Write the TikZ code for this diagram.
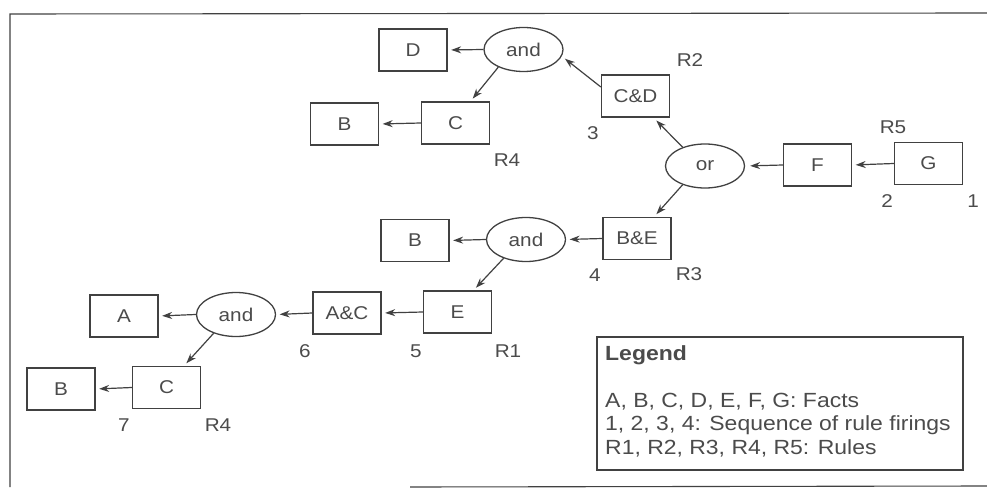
\documentclass[tikz,border=0pt]{standalone}
\usepackage{fontspec}
\setmainfont{Liberation Sans}[FakeStretch=1.12]
\usetikzlibrary{arrows.meta,shapes.geometric}
\definecolor{ink}{RGB}{65,65,65}
\definecolor{txt}{RGB}{75,75,75}
\newcommand\nfont{\fontsize{18.5}{22}\selectfont}
\newcommand\lgfont{\fontsize{20.5}{24}\selectfont}
\begin{document}
\begin{tikzpicture}[x=1pt,y=-1pt,
  fact/.style={draw=ink, line width=1.3pt, rectangle, minimum width=68pt, minimum height=42pt, inner sep=0pt, text=txt, font=\nfont},
  conn/.style={draw=ink, line width=1.3pt, ellipse, minimum width=79pt, minimum height=44pt, inner sep=0pt, text=txt, font=\nfont},
  lab/.style={text=txt, font=\nfont, inner sep=0pt},
  leg/.style={text=txt, font=\lgfont, inner sep=0pt, anchor=west},
  arr/.style={draw=ink, line width=1.2pt, -{Stealth[length=10pt,width=7pt]}, shorten >=3.5pt}]
\useasboundingbox (0,0) rectangle (987,489);
% frame
\draw[ink, line width=1.1pt] (10,487) -- (10,14) -- (987,13);
\draw[ink, line width=1.1pt] (410,487) -- (987,486);
% nodes
\node[fact] (D1) at (413,50) {D};
\node[conn] (and1) at (523.5,49.5) {and};
\node[fact] (B1) at (344.5,124) {B};
\node[fact] (C1) at (455.5,123) {C};
\node[fact] (CD) at (635.5,96) {C\&D};
\node[conn] (or) at (705,166) {or};
\node[fact] (F) at (817.5,165) {F};
\node[fact] (G) at (928.5,163.5) {G};
\node[fact] (BE) at (637,238.5) {B\&E};
\node[conn] (and2) at (526,239.5) {and};
\node[fact] (B2) at (415,240.5) {B};
\node[fact] (E) at (457.5,312) {E};
\node[fact] (AC) at (347,313) {A\&C};
\node[conn] (and3) at (236,314.5) {and};
\node[fact] (A) at (124,316) {A};
\node[fact] (C3) at (166.5,387.5) {C};
\node[fact] (B3) at (61,389) {B};
% labels
\node[lab] (lR2) at (690,60) {R2};
\node[lab] (lR4a) at (507,160) {R4};
\node[lab] (l3) at (593,133) {3};
\node[lab] (lR5) at (893,127) {R5};
\node[lab] (l2) at (887,201) {2};
\node[lab] (l1) at (973,201) {1};
\node[lab] (l4) at (595,275) {4};
\node[lab] (lR3) at (689,274) {R3};
\node[lab] (l6) at (305,351) {6};
\node[lab] (l5) at (416,351) {5};
\node[lab] (lR1) at (508,351) {R1};
\node[lab] (l7) at (124,425) {7};
\node[lab] (lR4b) at (218,425) {R4};
% connectors
\draw[arr] (and1.west) -- (D1.east);
\draw[arr] (and1.215) -- ([xshift=15pt]C1.north);
\draw[arr] (C1.west) -- (B1.east);
\draw[arr, shorten >=4pt] ([yshift=9pt]CD.west) -- (and1.-10);
\draw[arr, shorten >=4pt] (or.140) -- ([xshift=18pt]CD.south);
\draw[arr, shorten >=5pt] (F.west) -- (or.east);
\draw[arr] (G.west) -- (F.east);
\draw[arr] (or.220) -- ([xshift=17pt]BE.north);
\draw[arr] (BE.west) -- (and2.east);
\draw[arr] (and2.west) -- (B2.east);
\draw[arr] (and2.220) -- ([xshift=16pt]E.north);
\draw[arr] (E.west) -- (AC.east);
\draw[arr] (AC.west) -- (and3.east);
\draw[arr] (and3.west) -- (A.east);
\draw[arr] (and3.220) -- ([xshift=17.5pt]C3.north);
\draw[arr] (C3.west) -- (B3.east);
% legend
\node[draw=ink, line width=1.1pt, minimum width=366pt, minimum height=133pt, inner sep=0pt] (legend) at (780,403.5) {};
\node[leg, font=\lgfont\bfseries] (legT) at (605,355) {Legend};
\node[leg] (leg1) at (605,402) {A, B, C, D, E, F, G: Facts};
\node[leg] (leg2) at (605,425) {1, 2, 3, 4: Sequence of rule firings};
\node[leg] (leg3) at (605,448) {R1, R2, R3, R4, R5: Rules};
\end{tikzpicture}
\end{document}
